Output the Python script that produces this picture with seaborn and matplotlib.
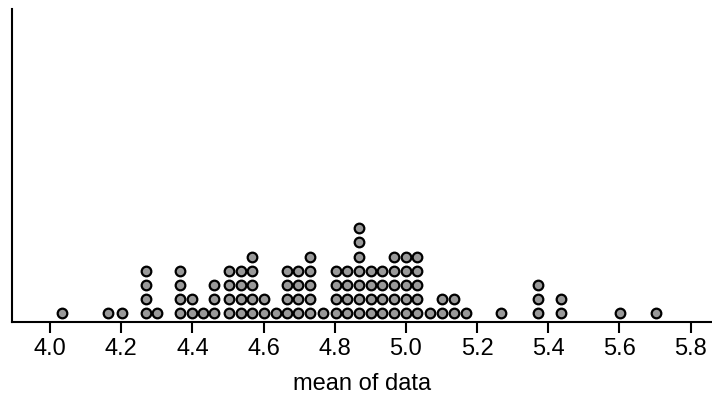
import matplotlib
matplotlib.use("Agg")
import matplotlib.pyplot as plt
import seaborn as sns
import numpy as np
import pandas as pd

# bin centres of the dot plot and number of dots per bin
bin_values = [4.033, 4.164, 4.201, 4.269, 4.300, 4.365, 4.398, 4.431, 4.461, 4.503,
              4.536, 4.568, 4.601, 4.635, 4.665, 4.697, 4.730, 4.768, 4.803, 4.835,
              4.868, 4.901, 4.933, 4.966, 4.999, 5.032, 5.069, 5.102, 5.135, 5.168,
              5.266, 5.372, 5.437, 5.601, 5.704]
bin_counts = [1, 1, 1, 4, 1, 4, 2, 1, 3, 4,
              4, 5, 2, 1, 4, 4, 5, 1, 4, 4,
              7, 4, 4, 5, 5, 5, 1, 2, 2, 1,
              1, 3, 2, 1, 1]
x_ticks = [4.0, 4.2, 4.4, 4.6, 4.8, 5.0, 5.2, 5.4, 5.6, 5.8]
x_label = "mean of data"

# expand into one row per dot, stacked within each bin
xs, ys = [], []
for v, c in zip(bin_values, bin_counts):
    for k in range(c):
        xs.append(v)
        ys.append(k)
df = pd.DataFrame({"mean": xs, "stack": ys})

sns.set_style("ticks")
plt.rcParams['font.family'] = ['Liberation Sans', 'DejaVu Sans']

fig = plt.figure(figsize=(7.12, 4.06), dpi=100)
ax = fig.add_axes([0.0169, 0.2044, 0.983, 0.771])

sns.scatterplot(data=df, x="mean", y="stack", ax=ax, s=48, color="#999999",
                edgecolor="black", linewidth=1.6, legend=False, zorder=3)

ax.set_xlim(3.893, 5.86)
ax.set_ylim(-0.61, 21.43)
ax.set_xticks(x_ticks)
ax.set_xticklabels([f"{t:.1f}" for t in x_ticks])
ax.set_yticks([])
ax.set_ylabel("")
ax.set_xlabel(x_label, fontsize=17, labelpad=9, color="black")
ax.tick_params(axis="x", length=8, width=1.5, labelsize=17, pad=3,
               color="black", labelcolor="black")
for side in ["top", "right"]:
    ax.spines[side].set_visible(False)
for side in ["left", "bottom"]:
    ax.spines[side].set_linewidth(1.5)
    ax.spines[side].set_color("black")

fig.savefig("out.png", dpi=100)
